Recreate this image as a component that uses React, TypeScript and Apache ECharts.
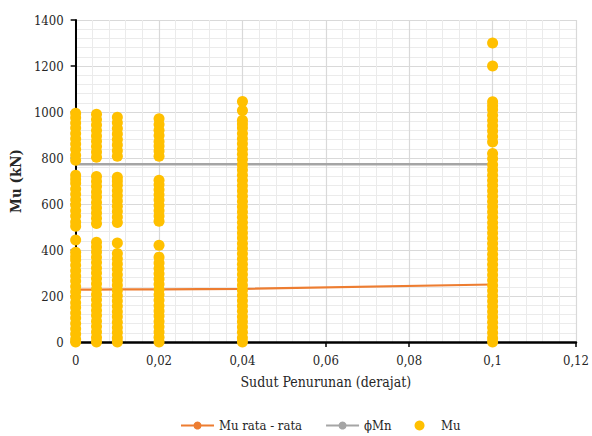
import React, { useEffect, useRef } from "react";
import * as echarts from "echarts";

// Settlement angles (degrees) at which Mu was evaluated
const angles = [0, 0.005, 0.01, 0.02, 0.04, 0.1];

// Mu values (kN) at each settlement angle
const mu0 = [0, 12, 35, 58, 80, 104, 126, 150, 171, 196, 218, 241, 265, 287, 310, 334, 356, 372, 390, 443, 503, 522, 548, 571, 596, 618, 642, 665, 690, 708, 725, 790, 812, 838, 861, 884, 907, 930, 952, 975, 995];
const mu0005 = [0, 20, 44, 67, 90, 115, 137, 160, 184, 207, 230, 253, 276, 300, 322, 346, 369, 391, 413, 434, 515, 538, 561, 584, 607, 630, 652, 676, 698, 720, 803, 826, 850, 873, 896, 920, 944, 967, 990];
const mu001 = [0, 18, 41, 63, 86, 110, 132, 155, 178, 201, 224, 247, 269, 292, 316, 339, 362, 385, 430, 520, 544, 567, 590, 613, 636, 658, 681, 700, 716, 808, 832, 856, 880, 904, 928, 953, 977];
const mu002 = [0, 21, 44, 66, 89, 113, 135, 158, 181, 205, 228, 251, 274, 297, 320, 344, 369, 421, 525, 548, 571, 594, 617, 640, 662, 684, 703, 808, 830, 852, 872, 898, 921, 946, 971];
const mu004 = [0, 19, 42, 65, 88, 110, 134, 156, 179, 202, 225, 247, 270, 293, 316, 338, 361, 384, 406, 428, 452, 474, 497, 520, 542, 565, 588, 611, 634, 656, 679, 702, 725, 748, 770, 793, 816, 838, 862, 884, 907, 930, 948, 964, 1007, 1046];
const mu01 = [0, 17, 40, 63, 86, 109, 131, 154, 177, 200, 223, 246, 268, 291, 314, 337, 360, 382, 405, 428, 451, 474, 497, 519, 542, 565, 588, 611, 634, 657, 680, 702, 725, 748, 771, 797, 820, 870, 893, 917, 940, 963, 986, 1010, 1027, 1045, 1200, 1300];
const muByAngle = [mu0, mu0005, mu001, mu002, mu004, mu01];

// Average Mu (kN) per angle
const muAvg = [228, 228, 229, 229, 231, 250];

// Design capacity phi*Mn (kN)
const phiMn = [773, 773, 773, 773, 773, 773];

const FONT = "DejaVu Serif Condensed, DejaVu Serif";

const fmtX = (v: number) =>
  v === 0 ? "0" : String(+v.toFixed(3)).replace(".", ",");
const fmtY = (v: number) => String(Math.round(v));

const labelStyle = {
  fontFamily: FONT,
  fontSize: 13,
  color: "#262626",
};

export default function App() {
  const ref = useRef<HTMLDivElement>(null);

  useEffect(() => {
    if (!ref.current) return;
    const chart = echarts.init(ref.current, undefined, { renderer: "svg" });

    const scatterData: number[][] = [];
    muByAngle.forEach((vals, i) => {
      vals.forEach((v) => scatterData.push([angles[i], v]));
    });

    chart.setOption({
      animation: false,
      backgroundColor: "#ffffff",
      textStyle: { fontFamily: FONT, color: "#262626" },
      grid: { left: 75, right: 14, top: 20, bottom: 94 },
      legend: {
        left: 180,
        top: 419,
        padding: 0,
        itemWidth: 33,
        itemHeight: 10,
        itemGap: 23,
        textStyle: { ...labelStyle },
        data: ["Mu rata - rata", "ϕMn", "Mu"],
      },
      xAxis: {
        type: "value",
        min: 0,
        max: 0.12,
        interval: 0.02,
        name: "Sudut Penurunan (derajat)",
        nameLocation: "middle",
        nameGap: 33,
        nameTextStyle: { ...labelStyle, fontSize: 14 },
        axisLine: { show: true, onZero: false, lineStyle: { color: "#000", width: 2.5 } },
        axisTick: { show: true, length: 5, lineStyle: { color: "#000", width: 1.5 } },
        axisLabel: { ...labelStyle, margin: 12, formatter: fmtX },
        splitLine: { show: true, lineStyle: { color: "#D9D9D9", width: 1.2 } },
        minorTick: { show: false, splitNumber: 5 },
        minorSplitLine: { show: true, lineStyle: { color: "#EBEBEB", width: 1 } },
      },
      yAxis: {
        type: "value",
        min: 0,
        max: 1400,
        interval: 200,
        name: "Mu (kN)",
        nameLocation: "middle",
        nameRotate: 90,
        nameGap: 48,
        nameTextStyle: { ...labelStyle, fontSize: 15, fontWeight: "bold" },
        axisLine: { show: true, lineStyle: { color: "#000", width: 2 } },
        axisTick: { show: true, length: 5, lineStyle: { color: "#000", width: 1.5 } },
        axisLabel: { ...labelStyle, margin: 12, formatter: fmtY },
        splitLine: { show: true, lineStyle: { color: "#D9D9D9", width: 1.2 } },
        minorTick: { show: false, splitNumber: 5 },
        minorSplitLine: { show: true, lineStyle: { color: "#EBEBEB", width: 1 } },
      },
      series: [
        {
          name: "Mu rata - rata",
          type: "line",
          z: 2,
          data: angles.map((a, i) => [a, muAvg[i]]),
          symbol: "circle",
          symbolSize: 8,
          itemStyle: { color: "#ED7D31" },
          lineStyle: { color: "#ED7D31", width: 2.2 },
        },
        {
          name: "ϕMn",
          type: "line",
          z: 2,
          data: angles.map((a, i) => [a, phiMn[i]]),
          symbol: "none",
          itemStyle: { color: "#A5A5A5" },
          lineStyle: { color: "#A5A5A5", width: 2.5 },
        },
        {
          name: "Mu",
          type: "scatter",
          z: 3,
          data: scatterData,
          symbol: "circle",
          symbolSize: 11,
          itemStyle: { color: "#FFC000", opacity: 1 },
        },
      ],
    });

    return () => chart.dispose();
  }, []);

  return (
    <div
      ref={ref}
      style={{ position: "fixed", left: 0, top: 0, width: 592, height: 436 }}
    />
  );
}
